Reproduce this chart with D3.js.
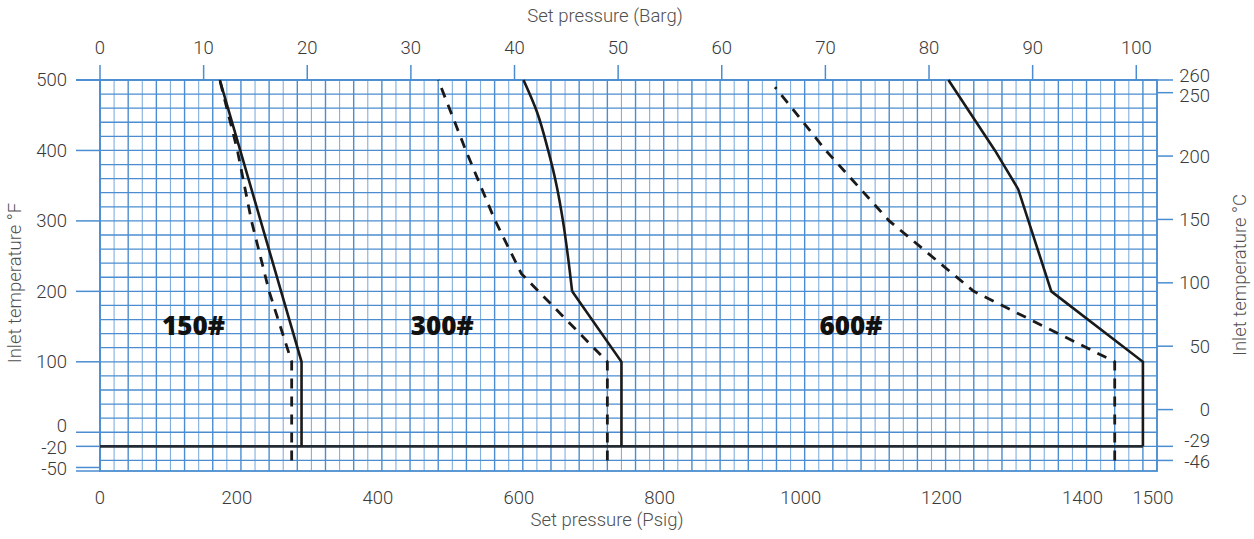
<!DOCTYPE html>
<html>
<head>
<meta charset="utf-8">
<script src="https://cdn.jsdelivr.net/npm/d3@7"></script>
<style>
  html, body { margin: 0; padding: 0; background: #ffffff; }
  svg { display: block; }
  .tick-label { font-family: Roboto, "DejaVu Sans", sans-serif; font-weight: 300; font-size: 18.5px; fill: #3a3a3a; }
  .axis-title { font-family: Roboto, "DejaVu Sans", sans-serif; font-weight: 300; font-size: 18.5px; fill: #505050; }
  .class-label { font-family: "Open Sans", "DejaVu Sans", sans-serif; font-weight: 800; font-size: 26px; fill: #111111; }
</style>
</head>
<body>
<svg id="chart" width="1254" height="539"></svg>
<script>
// ---------------- DATA ----------------
const psigTicks = [0, 200, 400, 600, 800, 1000, 1200, 1400, 1500];
const bargTicks = [0, 10, 20, 30, 40, 50, 60, 70, 80, 90, 100];
const tempFTicks = [500, 400, 300, 200, 100, 0, -20, -50];
const tempCTicks = [260, 250, 200, 150, 100, 50, 0, -29, -46];
// °C axis anchors and the °F grid lines they sit on in the picture
const tempCAnchors = [-46, -29, 260];
const tempCAnchorsF = [-40, -20, 500];

// [set pressure psig, inlet temperature °F]
const class150Solid  = [[286, -20], [286, 100], [257, 200], [228, 300], [199, 400], [170, 500]];
const class150Dashed = [[272, -40], [272, 100], [240, 200], [215, 300], [195, 400], [170, 500]];
const class300SolidLow  = [[740, -20], [740, 100], [670, 200]];
const class300SolidHigh = [[670, 200], [664, 250], [657, 300], [648, 350], [636, 400], [620, 455], [601, 500]];
const class300Dashed = [[720, -40], [720, 100], [598, 225], [560, 302], [520, 398], [480, 500]];
const class600Solid  = [[1480, -20], [1480, 100], [1350, 200], [1303, 345], [1270, 400], [1204, 500]];
const class600Dashed = [[1440, -40], [1440, 100], [1240, 200], [1120, 300], [1030, 400], [958, 490]];
const minTempLine    = [[0, -20], [1480, -20]];

const classNames = ["150#", "300#", "600#"];
const classLabelPsig = [88, 441, 1021];
const classLabelTempF = [138, 138, 138];

// ---------------- LAYOUT ----------------
const mLeft = 100, mRight = 1157, mTop = 80, mBottom = 471;
const svg = d3.select("#chart");

const x = d3.scaleLinear().domain([0, 1500]).range([mLeft, mRight]);
const xBarg = d3.scaleLinear().domain([0, 102]).range([mLeft, mRight]);
const y = d3.scaleLinear().domain([-55, 500]).range([mBottom, mTop]);
const yC = d3.scaleLinear().domain(tempCAnchors).range(tempCAnchorsF.map(y));

const gridColor = "#4b8dd0";

// label nudges so that crowded tick labels sit apart as in the picture
const leftNudge = { "0": -6.5, "-20": 1.5, "-50": 1.5 };
const rightNudge = { "260": -4, "250": 3, "-29": -6, "-46": 1 };

// Grid
const grid = svg.append("g");
grid.selectAll("line.v").data(d3.range(0, 1501, 20)).join("line")
  .attr("x1", d => x(d)).attr("x2", d => x(d))
  .attr("y1", mTop).attr("y2", mBottom)
  .attr("stroke", gridColor).attr("stroke-width", (d, i) => i % 2 ? 1.1 : 1.4)
  .attr("stroke-opacity", (d, i) => i % 2 ? 0.7 : 1);
grid.selectAll("line.h").data(d3.range(-40, 501, 20)).join("line")
  .attr("x1", mLeft).attr("x2", mRight)
  .attr("y1", d => y(d)).attr("y2", d => y(d))
  .attr("stroke", gridColor).attr("stroke-width", 1.3);

// Border
grid.append("rect").attr("x", mLeft).attr("y", mTop)
  .attr("width", mRight - mLeft).attr("height", mBottom - mTop)
  .attr("fill", "none").attr("stroke", gridColor).attr("stroke-width", 1.8);

// Left axis (°F)
const leftAxis = svg.append("g");
leftAxis.selectAll("line").data(tempFTicks).join("line")
  .attr("x1", mLeft - 24).attr("x2", mLeft)
  .attr("y1", d => y(d)).attr("y2", d => y(d))
  .attr("stroke", gridColor).attr("stroke-width", 1.5);
leftAxis.selectAll("text").data(tempFTicks).join("text")
  .attr("class", "tick-label")
  .attr("x", mLeft - 33).attr("y", d => y(d) + (leftNudge[d] || 0)).attr("dy", "0.35em")
  .attr("text-anchor", "end").text(d => d);
leftAxis.append("line").attr("x1", mLeft - 24).attr("x2", mLeft)
  .attr("y1", mBottom).attr("y2", mBottom)
  .attr("stroke", gridColor).attr("stroke-width", 1.5);

// Right axis (°C)
const rightAxis = svg.append("g");
rightAxis.selectAll("line").data(tempCTicks).join("line")
  .attr("x1", mRight).attr("x2", mRight + 16)
  .attr("y1", d => yC(d)).attr("y2", d => yC(d))
  .attr("stroke", gridColor).attr("stroke-width", 1.5);
rightAxis.selectAll("text").data(tempCTicks).join("text")
  .attr("class", "tick-label")
  .attr("x", 1210).attr("y", d => yC(d) + (rightNudge[d] || 0)).attr("dy", "0.35em")
  .attr("text-anchor", "end").text(d => d);

// Top axis (Barg)
const topAxis = svg.append("g");
topAxis.selectAll("line").data(bargTicks).join("line")
  .attr("x1", d => xBarg(d)).attr("x2", d => xBarg(d))
  .attr("y1", mTop - 15).attr("y2", mTop)
  .attr("stroke", gridColor).attr("stroke-width", 1.5);
topAxis.selectAll("text").data(bargTicks).join("text")
  .attr("class", "tick-label")
  .attr("x", d => xBarg(d)).attr("y", 54)
  .attr("text-anchor", "middle").text(d => d);
topAxis.append("line").attr("x1", mLeft - 24).attr("x2", mLeft)
  .attr("y1", mTop).attr("y2", mTop)
  .attr("stroke", gridColor).attr("stroke-width", 1.8);

// Bottom axis (Psig)
const bottomAxis = svg.append("g");
bottomAxis.selectAll("text").data(psigTicks).join("text")
  .attr("class", "tick-label")
  .attr("x", d => x(d) - (d === 0 ? 0 : 4)).attr("y", 504)
  .attr("text-anchor", "middle").text(d => d);

// Axis titles
svg.append("text").attr("class", "axis-title")
  .attr("x", 605).attr("y", 22).attr("text-anchor", "middle")
  .text("Set pressure (Barg)");
svg.append("text").attr("class", "axis-title")
  .attr("x", 607).attr("y", 526).attr("text-anchor", "middle")
  .text("Set pressure (Psig)");
svg.append("text").attr("class", "axis-title")
  .attr("transform", "translate(21,283) rotate(-90)")
  .attr("text-anchor", "middle").text("Inlet temperature °F");
svg.append("text").attr("class", "axis-title")
  .attr("transform", "translate(1246,275) rotate(-90)")
  .attr("text-anchor", "middle").text("Inlet temperature °C");

// Curves
const line = d3.line().x(d => x(d[0])).y(d => y(d[1]));
const smooth = d3.line().x(d => x(d[0])).y(d => y(d[1])).curve(d3.curveMonotoneY);
const curves = svg.append("g").attr("fill", "none");
[class150Dashed, class300Dashed, class600Dashed].forEach(s => {
  curves.append("path").attr("d", line(s))
    .attr("stroke", "#1a1a1a").attr("stroke-width", 2.8)
    .attr("stroke-dasharray", "10,8");
});
curves.append("path").attr("d", line(minTempLine))
  .attr("stroke", "#222a33").attr("stroke-width", 2.6);
[class150Solid, class300SolidLow, class600Solid].forEach(s => {
  curves.append("path").attr("d", line(s))
    .attr("stroke", "#1a1a1a").attr("stroke-width", 2.6)
    .attr("stroke-linejoin", "miter");
});
curves.append("path").attr("d", smooth(class300SolidHigh))
  .attr("stroke", "#1a1a1a").attr("stroke-width", 2.6);

// Class labels
svg.selectAll("text.class-label").data(classNames).join("text")
  .attr("class", "class-label")
  .attr("x", (d, i) => x(classLabelPsig[i]))
  .attr("y", (d, i) => y(classLabelTempF[i]))
  .text(d => d);
</script>
</body>
</html>
